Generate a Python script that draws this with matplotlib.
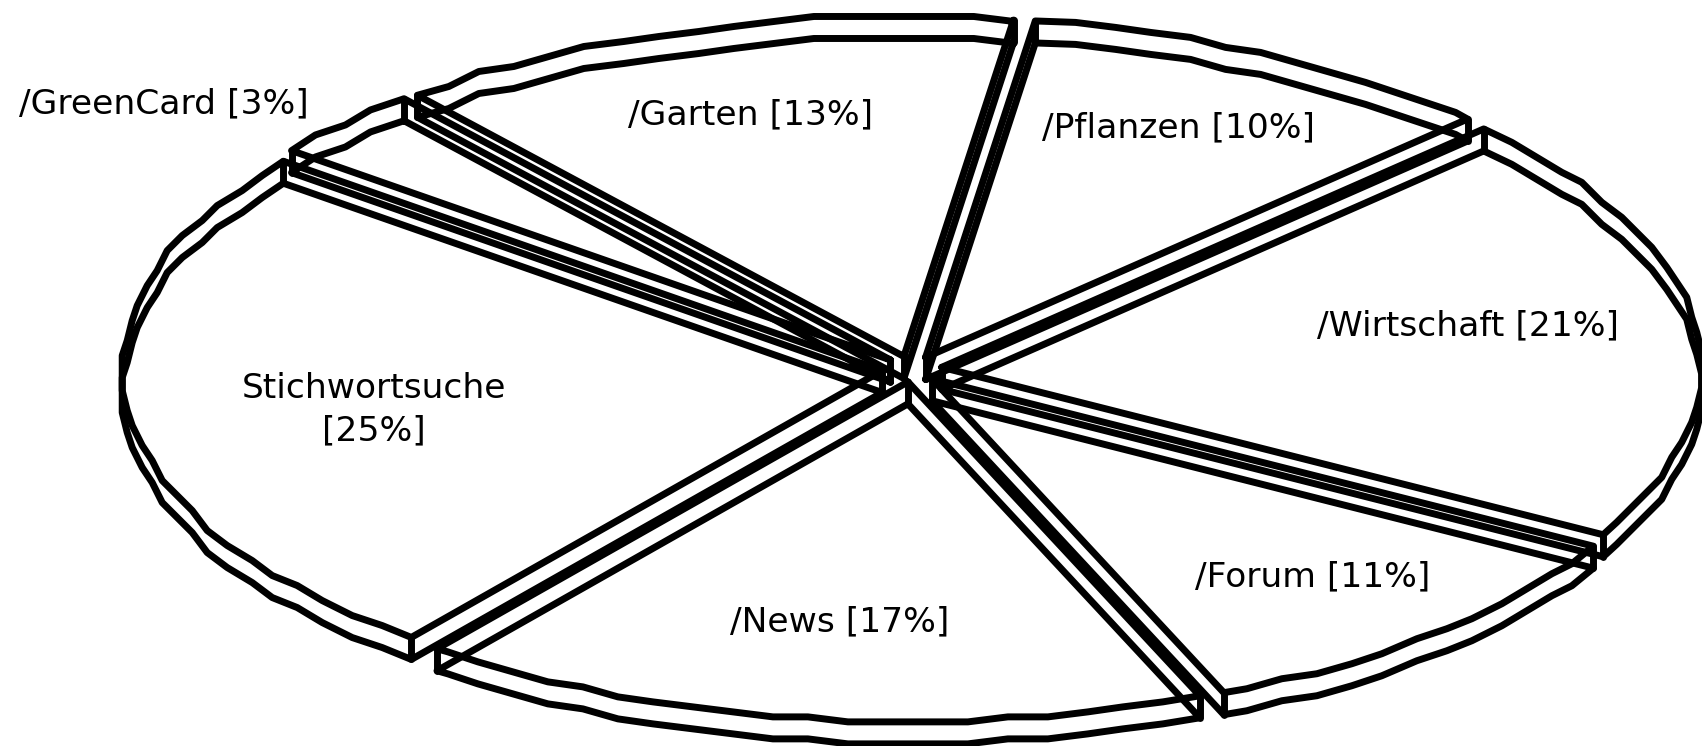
import numpy as np
import matplotlib
matplotlib.use('Agg')
import matplotlib.pyplot as plt

labels = ['/Pflanzen [10%]', '/Wirtschaft [21%]', '/Forum [11%]', '/News [17%]',
          'Stichwortsuche\n[25%]', '/GreenCard [3%]', '/Garten [13%]']
values = [10.33, 20.56, 10.53, 16.91, 24.92, 3.39, 13.36]
label_x = [1179, 1468, 1313, 840, 374, 164, 751]
label_y = [128, 326, 577, 622, 410, 104, 115]

W, H = 1702, 746
cx, cy = 912, 369   # pie centre in pixels
a, b = 760, 340     # ellipse radii
ex, ey = 30, 13     # explode distance
depth = 22
start = 81.7        # degrees, slices run clockwise
grid = 5.0          # coarse rounding gives the wavy outline
lw = 5.0

fig = plt.figure(figsize=(W / 100, H / 100), dpi=100)
ax = fig.add_axes([0, 0, 1, 1])
ax.set_xlim(0, W)
ax.set_ylim(H, 0)
ax.axis('off')


def draw(xs, ys):
    ax.plot(xs, ys, color='black', lw=lw, solid_joinstyle='round', solid_capstyle='round')


ang = start
for v in values:
    sweep = v / sum(values) * 360
    t = np.append(np.arange(ang, ang - sweep, -3.0), ang - sweep)
    mid = np.radians(ang - sweep / 2)
    x0 = cx + ex * np.cos(mid)
    y0 = cy - ey * np.sin(mid)
    xa = a * np.cos(np.radians(t))
    ya = -b * np.sin(np.radians(t))
    xa[1:-1] = np.round(xa[1:-1] / grid) * grid
    ya[1:-1] = np.round(ya[1:-1] / grid) * grid
    xs = np.concatenate([[x0], x0 + xa, [x0]])
    ys = np.concatenate([[y0], y0 + ya, [y0]])
    # wireframe: top face, bottom face and the three upright edges
    draw(xs, ys)
    draw(xs, ys + depth)
    for i in [0, 1, len(xs) - 2]:
        draw([xs[i], xs[i]], [ys[i], ys[i] + depth])
    ang -= sweep

for name, x, y in zip(labels, label_x, label_y):
    ax.text(x, y, name, ha='center', va='center', fontsize=24.8, color='black',
            family='DejaVu Sans', linespacing=1.35)

fig.savefig('out.png', dpi=100)
